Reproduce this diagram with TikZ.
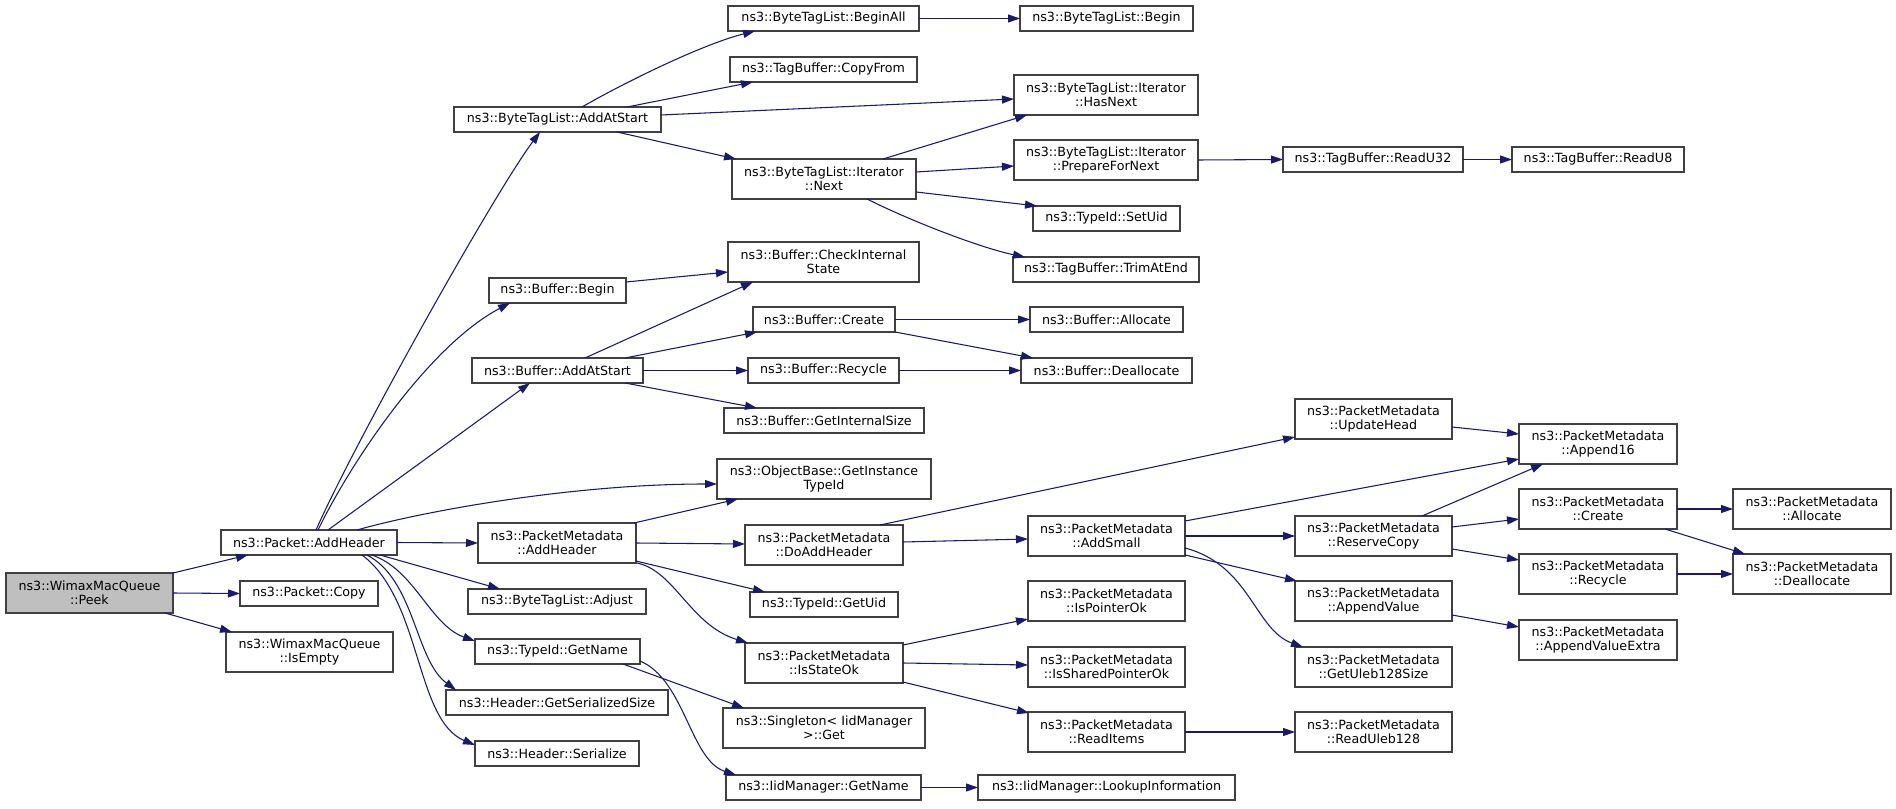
\documentclass[tikz,border=0pt]{standalone}
\usepackage{fontspec}
\setmainfont{DejaVu Sans}
\usetikzlibrary{arrows.meta}
\definecolor{edgec}{HTML}{191970}
\definecolor{boxc}{HTML}{404040}
\definecolor{peekfill}{HTML}{BFBFBF}
\tikzset{
  fn/.style={draw=boxc, line width=0.8pt, fill=white, rectangle, inner sep=0pt, outer sep=0pt,
    align=center, font=\fontsize{9.5}{10.7}\selectfont, text=black},
  cur/.style={fn, fill=peekfill},
  edge/.style={draw=edgec, line width=0.8pt, -{Triangle[length=9pt,width=6pt]}}
}
\newcommand\gnode[7]{\node[#1, minimum width={(#5-#3)*0.75pt}, minimum height={(#6-#4)*0.75pt}] (#2) at ({(#3+#5)/2},{(#4+#6)/2}) {#7};}
\begin{document}
\begin{tikzpicture}[x=0.75pt,y=-0.75pt]
\useasboundingbox (0,0) rectangle (1896,809);
\fill[white] (0,0) rectangle (1896,809);
% rank 0,1
\gnode{cur}{peek}{6}{573}{173}{613}{ns3::WimaxMacQueue\\::Peek}
\gnode{fn}{addh}{221}{530}{397}{555}{ns3::Packet::AddHeader}
\gnode{fn}{copy}{240}{581}{378}{606}{ns3::Packet::Copy}
\gnode{fn}{isempty}{226}{632}{393}{672}{ns3::WimaxMacQueue\\::IsEmpty}
% rank 2
\gnode{fn}{btlaas}{454}{107}{661}{132}{ns3::ByteTagList::AddAtStart}
\gnode{fn}{bbegin}{489}{278}{626}{303}{ns3::Buffer::Begin}
\gnode{fn}{baas}{472}{358}{643}{383}{ns3::Buffer::AddAtStart}
\gnode{fn}{pmaddh}{478}{523}{636}{563}{ns3::PacketMetadata\\::AddHeader}
\gnode{fn}{adjust}{468}{589}{646}{614}{ns3::ByteTagList::Adjust}
\gnode{fn}{tgetname}{475}{639}{640}{664}{ns3::TypeId::GetName}
\gnode{fn}{gss}{446}{690}{668}{715}{ns3::Header::GetSerializedSize}
\gnode{fn}{ser}{475}{741}{639}{766}{ns3::Header::Serialize}
% rank 3
\gnode{fn}{beginall}{728}{6}{919}{31}{ns3::ByteTagList::BeginAll}
\gnode{fn}{copyfrom}{730}{57}{917}{82}{ns3::TagBuffer::CopyFrom}
\gnode{fn}{next}{732}{159}{916}{199}{ns3::ByteTagList::Iterator\\::Next}
\gnode{fn}{check}{728}{242}{919}{282}{ns3::Buffer::CheckInternal\\State}
\gnode{fn}{bcreate}{753}{307}{895}{332}{ns3::Buffer::Create}
\gnode{fn}{brecycle}{748}{358}{899}{383}{ns3::Buffer::Recycle}
\gnode{fn}{gis}{724}{408}{924}{433}{ns3::Buffer::GetInternalSize}
\gnode{fn}{objb}{717}{459}{931}{499}{ns3::ObjectBase::GetInstance\\TypeId}
\gnode{fn}{doaddh}{745}{525}{903}{565}{ns3::PacketMetadata\\::DoAddHeader}
\gnode{fn}{getuid}{750}{592}{898}{617}{ns3::TypeId::GetUid}
\gnode{fn}{isstate}{745}{643}{903}{683}{ns3::PacketMetadata\\::IsStateOk}
\gnode{fn}{singleton}{723}{708}{925}{748}{ns3::Singleton< IidManager\\>::Get}
\gnode{fn}{iidget}{726}{775}{921}{800}{ns3::IidManager::GetName}
% rank 4
\gnode{fn}{btlbegin}{1020}{6}{1193}{31}{ns3::ByteTagList::Begin}
\gnode{fn}{hasnext}{1014}{75}{1198}{115}{ns3::ByteTagList::Iterator\\::HasNext}
\gnode{fn}{prep}{1014}{140}{1198}{180}{ns3::ByteTagList::Iterator\\::PrepareForNext}
\gnode{fn}{setuid}{1033}{206}{1180}{231}{ns3::TypeId::SetUid}
\gnode{fn}{trim}{1013}{257}{1199}{282}{ns3::TagBuffer::TrimAtEnd}
\gnode{fn}{ballocate}{1030}{307}{1183}{332}{ns3::Buffer::Allocate}
\gnode{fn}{bdealloc}{1021}{358}{1192}{383}{ns3::Buffer::Deallocate}
\gnode{fn}{addsmall}{1028}{516}{1185}{556}{ns3::PacketMetadata\\::AddSmall}
\gnode{fn}{isptr}{1028}{581}{1185}{621}{ns3::PacketMetadata\\::IsPointerOk}
\gnode{fn}{isshared}{1028}{647}{1185}{687}{ns3::PacketMetadata\\::IsSharedPointerOk}
\gnode{fn}{readitems}{1028}{712}{1185}{752}{ns3::PacketMetadata\\::ReadItems}
\gnode{fn}{lookup}{978}{775}{1235}{800}{ns3::IidManager::LookupInformation}
% rank 5
\gnode{fn}{readu32}{1283}{147}{1463}{172}{ns3::TagBuffer::ReadU32}
\gnode{fn}{updhead}{1295}{399}{1452}{439}{ns3::PacketMetadata\\::UpdateHead}
\gnode{fn}{reserve}{1295}{516}{1452}{556}{ns3::PacketMetadata\\::ReserveCopy}
\gnode{fn}{appval}{1295}{581}{1452}{621}{ns3::PacketMetadata\\::AppendValue}
\gnode{fn}{uleb}{1295}{647}{1452}{687}{ns3::PacketMetadata\\::GetUleb128Size}
\gnode{fn}{readuleb}{1295}{712}{1452}{752}{ns3::PacketMetadata\\::ReadUleb128}
% rank 6
\gnode{fn}{readu8}{1512}{147}{1684}{172}{ns3::TagBuffer::ReadU8}
\gnode{fn}{app16}{1519}{424}{1677}{464}{ns3::PacketMetadata\\::Append16}
\gnode{fn}{pmcreate}{1519}{489}{1677}{529}{ns3::PacketMetadata\\::Create}
\gnode{fn}{pmrecycle}{1519}{554}{1677}{594}{ns3::PacketMetadata\\::Recycle}
\gnode{fn}{appvalx}{1519}{620}{1677}{660}{ns3::PacketMetadata\\::AppendValueExtra}
% rank 7
\gnode{fn}{pmalloc}{1733}{489}{1891}{529}{ns3::PacketMetadata\\::Allocate}
\gnode{fn}{pmdealloc}{1733}{554}{1891}{594}{ns3::PacketMetadata\\::Deallocate}

% edges
\draw[edge] ([shift={(167,0)}]peek.north west) -- ([shift={(27,25)}]addh.north west);
\draw[edge] (peek.east) -- (copy.west);
\draw[edge] ([shift={(159,40)}]peek.north west) -- ([shift={(6,0)}]isempty.north west);

\draw[edge] ([shift={(95,0)}]addh.north west) .. controls +(40,-90) and +(-45,60) .. ([shift={(86,25)}]btlaas.north west);
\draw[edge] ([shift={(97,0)}]addh.north west) .. controls +(34,-70) and +(-80,42) .. ([shift={(21,25)}]bbegin.north west);
\draw[edge] ([shift={(107,0)}]addh.north west) -- ([shift={(58,25)}]baas.north west);
\draw[edge] ([shift={(136,0)}]addh.north west) .. controls +(63,-18) and +(-147,0) .. ([shift={(0,25)}]objb.north west);
\draw[edge] (addh.east) -- (pmaddh.west);
\draw[edge] ([shift={(159,25)}]addh.north west) -- ([shift={(32,0)}]adjust.north west);
\draw[edge] ([shift={(151,25)}]addh.north west) .. controls +(43,15) and +(-45,-16) .. ([shift={(0,2)}]tgetname.north west);
\draw[edge] ([shift={(146,25)}]addh.north west) .. controls +(48,25) and +(-41,-30) .. ([shift={(10,0)}]gss.north west);
\draw[edge] ([shift={(141,25)}]addh.north west) .. controls +(60,45) and +(-60,-25) .. ([shift={(0,4)}]ser.north west);

\draw[edge] ([shift={(128,0)}]btlaas.north west) .. controls +(38,-22) and +(-55,14) .. ([shift={(27,25)}]beginall.north west);
\draw[edge] ([shift={(173,0)}]btlaas.north west) -- ([shift={(23,25)}]copyfrom.north west);
\draw[edge] ([shift={(207,8)}]btlaas.north west) -- ([shift={(0,24)}]hasnext.north west);
\draw[edge] ([shift={(163,25)}]btlaas.north west) -- ([shift={(4,0)}]next.north west);

\draw[edge] ([shift={(151,0)}]next.north west) -- ([shift={(13,40)}]hasnext.north west);
\draw[edge] ([shift={(184,13)}]next.north west) -- ([shift={(0,26)}]prep.north west);
\draw[edge] ([shift={(184,33)}]next.north west) -- ([shift={(4,0)}]setuid.north west);
\draw[edge] ([shift={(135,40)}]next.north west) .. controls +(50,25) and +(-40,-8) .. ([shift={(12,0)}]trim.north west);
\draw[edge] (prep.east) -- (readu32.west);
\draw[edge] (readu32.east) -- (readu8.west);
\draw[edge] (beginall.east) -- (btlbegin.west);

\draw[edge] ([shift={(137,4)}]bbegin.north west) -- ([shift={(0,30)}]check.north west);
\draw[edge] ([shift={(113,0)}]baas.north west) -- ([shift={(25,40)}]check.north west);
\draw[edge] ([shift={(153,0)}]baas.north west) -- ([shift={(4,25)}]bcreate.north west);
\draw[edge] (baas.east) -- (brecycle.west);
\draw[edge] ([shift={(153,25)}]baas.north west) -- ([shift={(33,0)}]gis.north west);
\draw[edge] (bcreate.east) -- (ballocate.west);
\draw[edge] ([shift={(142,25)}]bcreate.north west) -- ([shift={(12,0)}]bdealloc.north west);
\draw[edge] (brecycle.east) -- (bdealloc.west);

\draw[edge] ([shift={(156,0)}]pmaddh.north west) -- ([shift={(21,40)}]objb.north west);
\draw[edge] (pmaddh.east) -- ([shift={(0,19)}]doaddh.north west);
\draw[edge] ([shift={(158,38)}]pmaddh.north west) -- ([shift={(15,0)}]getuid.north west);
\draw[edge] ([shift={(159,40)}]pmaddh.north west) .. controls +(38,8) and +(-58,-18) .. ([shift={(3,0)}]isstate.north west);

\draw[edge] ([shift={(135,0)}]doaddh.north west) -- ([shift={(0,38)}]updhead.north west);
\draw[edge] ([shift={(158,17)}]doaddh.north west) -- ([shift={(0,23)}]addsmall.north west);

\draw[edge] ([shift={(157,5)}]addsmall.north west) -- ([shift={(0,35)}]app16.north west);
\draw[edge] (addsmall.east) -- (reserve.west);
\draw[edge] ([shift={(157,39)}]addsmall.north west) -- ([shift={(2,0)}]appval.north west);
\draw[edge] ([shift={(157,32)}]addsmall.north west) .. controls +(65,17) and +(-48,-17) .. ([shift={(8,0)}]uleb.north west);

\draw[edge] ([shift={(157,28)}]updhead.north west) -- ([shift={(0,10)}]app16.north west);
\draw[edge] ([shift={(127,0)}]reserve.north west) -- ([shift={(24,40)}]app16.north west);
\draw[edge] ([shift={(157,11)}]reserve.north west) -- ([shift={(0,30)}]pmcreate.north west);
\draw[edge] ([shift={(157,33)}]reserve.north west) -- ([shift={(0,6)}]pmrecycle.north west);
\draw[edge] (pmcreate.east) -- (pmalloc.west);
\draw[edge] ([shift={(146,40)}]pmcreate.north west) -- ([shift={(12,0)}]pmdealloc.north west);
\draw[edge] (pmrecycle.east) -- (pmdealloc.west);
\draw[edge] ([shift={(157,34)}]appval.north west) -- ([shift={(0,7)}]appvalx.north west);

\draw[edge] ([shift={(158,2)}]isstate.north west) -- ([shift={(0,38)}]isptr.north west);
\draw[edge] ([shift={(158,20)}]isstate.north west) -- ([shift={(0,18)}]isshared.north west);
\draw[edge] ([shift={(158,39)}]isstate.north west) -- ([shift={(1,1)}]readitems.north west);
\draw[edge] (readitems.east) -- (readuleb.west);

\draw[edge] ([shift={(148,25)}]tgetname.north west) -- ([shift={(21,0)}]singleton.north west);
\draw[edge] ([shift={(165,22)}]tgetname.north west) .. controls +(45,19) and +(-46,-15) .. ([shift={(10,0)}]iidget.north west);
\draw[edge] (iidget.east) -- (lookup.west);
\end{tikzpicture}
\end{document}
